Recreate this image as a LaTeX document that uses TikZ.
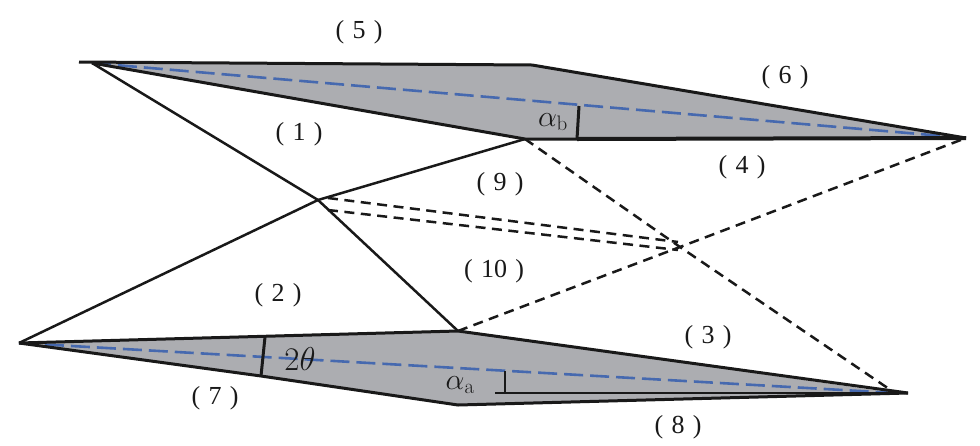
\RequirePackage{fix-cm}
\documentclass[tikz,border=0pt]{standalone}
\usepackage[no-math]{fontspec}
\setmainfont{Liberation Serif}
\definecolor{fillgray}{RGB}{172,173,177}
\definecolor{axisblue}{RGB}{70,105,175}
\definecolor{ink}{RGB}{25,25,25}
\newcommand{\plab}[1]{(\hspace{.32em}#1\hspace{.32em})}
\tikzset{
  edgeline/.style={draw=ink,line width=3pt,line join=round},
  thinline/.style={draw=ink,line width=2.5pt},
  dashline/.style={draw=ink,line width=2.5pt,dash pattern=on 10pt off 6.5pt},
  axisline/.style={draw=axisblue,line width=2.6pt,dash pattern=on 19pt off 7pt},
  lab/.style={font=\fontsize{26}{28}\selectfont,inner sep=0pt,text=ink},
  mathlab/.style={font=\fontsize{30}{32}\selectfont,inner sep=0pt,text=ink},
}
\begin{document}
\begin{tikzpicture}[x=1pt,y=-1pt]
\useasboundingbox (0,0) rectangle (980,445);
% top wing
\coordinate (Tstart) at (79,62);
\coordinate (Tl) at (92,63);
\coordinate (Tt) at (532,65);
\coordinate (Tr) at (966,138);
\coordinate (Tb) at (525,139);
\coordinate (Tm) at (577,139);
\coordinate (Tv) at (579,106);
% bottom wing
\coordinate (Bl) at (19,343);
\coordinate (Bt) at (458,331);
\coordinate (Br) at (908,393);
\coordinate (Bre) at (895,393);
\coordinate (Bb) at (458,405);
\coordinate (Bu) at (265,337);
\coordinate (Bd) at (261,376);
\coordinate (Av) at (505,371);
\coordinate (Ah) at (505,393);
\coordinate (Hl) at (495,393);
% centre points
\coordinate (C) at (318,200);
\coordinate (X) at (680,247);
\coordinate (D1) at (328,198);
\coordinate (D2) at (328,210);
\coordinate (E1) at (678,242);
\coordinate (E2) at (678,250);
% fills
\fill[fillgray] (Tl) -- (Tt) -- (Tr) -- (Tb) -- cycle;
\fill[fillgray] (Bl) -- (Bu) -- (Bt) -- (Bre) -- (Bb) -- (Bd) -- cycle;
% axes
\draw[axisline] (Tl) -- (Tr);
\draw[axisline] (Bl) -- (Bre);
% outlines
\draw[edgeline] (Tstart) -- (Tt) -- (Tr);
\draw[edgeline] (Tl) -- (Tb) -- (Tm);
\draw[draw=ink,line width=4pt] (Tm) -- (Tr);
\draw[edgeline] (Bl) -- (Bt) -- (Br);
\draw[edgeline] (Bl) -- (Bd) -- (Bb) -- (Br);
% struts
\draw[thinline] (Tl) -- (C) -- (Bt);
\draw[thinline] (Bl) -- (C) -- (Tb);
% dashed
\draw[dashline] (Tb) -- (X) -- (Bre);
\draw[dashline] (Bt) -- (X) -- (Tr);
\draw[dashline] (D1) -- (E1);
\draw[dashline] (D2) -- (E2);
% ticks
\draw[thinline,line width=3pt] (Tv) -- (Tm);
\draw[thinline,line width=3pt] (Bu) -- (Bd);
\draw[thinline] (Av) -- (Ah);
\draw[thinline] (Hl) -- (Bre);
% labels
\node[lab] (l5) at (359,32) {\plab{5}};
\node[lab] (l6) at (785,77) {\plab{6}};
\node[lab] (l1) at (299,134) {\plab{1}};
\node[lab] (l4) at (742,167) {\plab{4}};
\node[lab] (l9) at (500,184) {\plab{9}};
\node[lab] (l10) at (494,271) {\plab{10}};
\node[lab] (l2) at (278,295) {\plab{2}};
\node[lab] (l3) at (708,337) {\plab{3}};
\node[lab] (l7) at (215,398) {\plab{7}};
\node[lab] (l8) at (678,427) {\plab{8}};
\node[mathlab] (ab) at (553,122) {$\alpha_{\mathrm{b}}$};
\node[mathlab] (aa) at (460,385) {$\alpha_{\mathrm{a}}$};
\node[mathlab,font=\fontsize{33}{35}\selectfont] (th) at (300,359) {$2\theta$};
\end{tikzpicture}
\end{document}
